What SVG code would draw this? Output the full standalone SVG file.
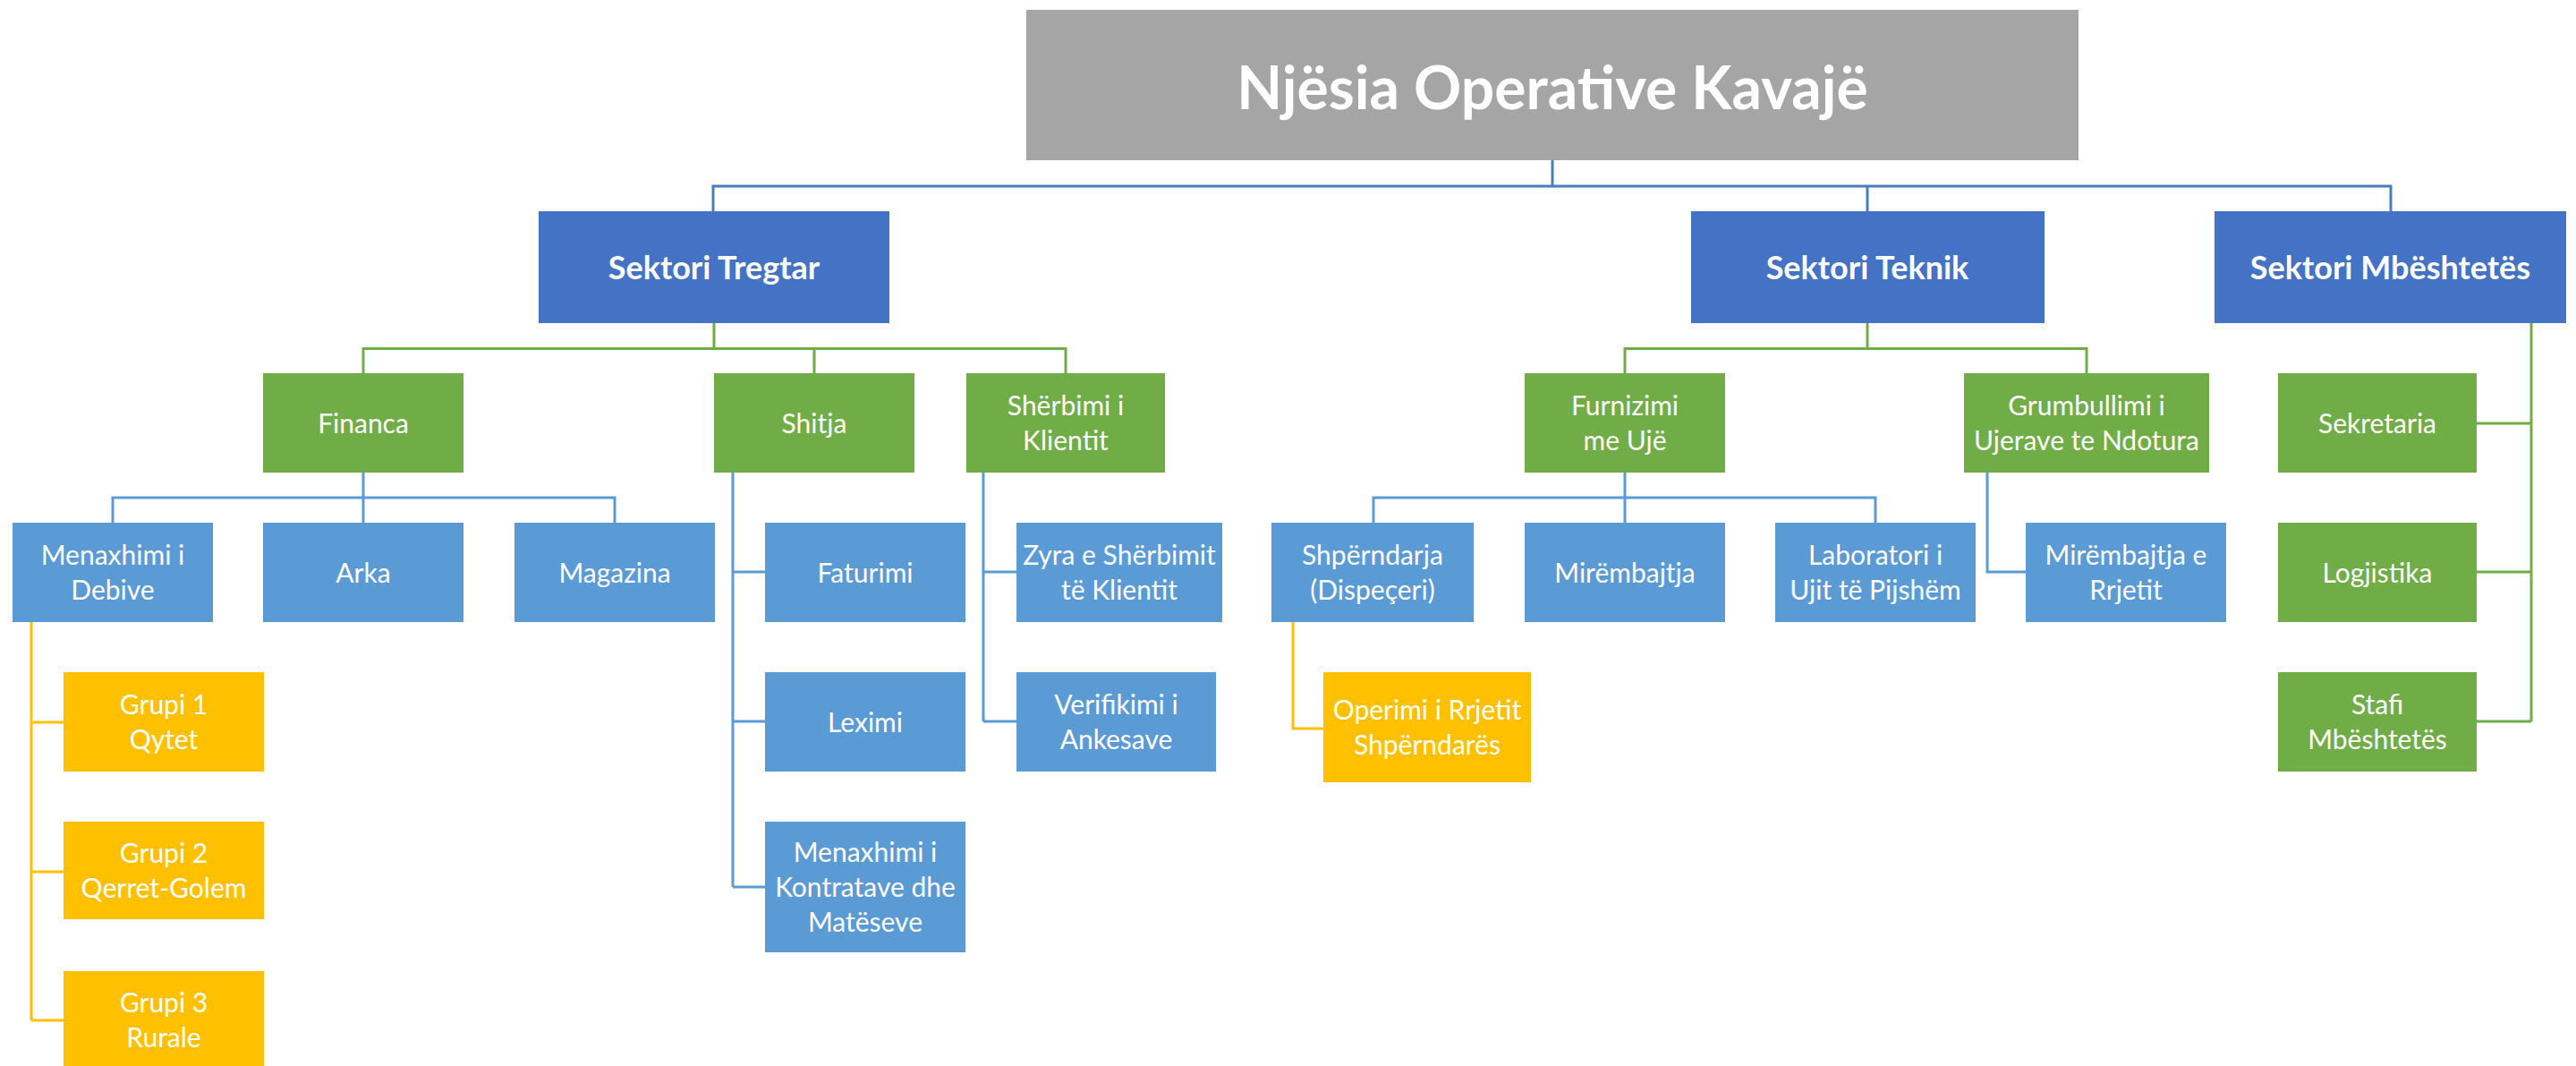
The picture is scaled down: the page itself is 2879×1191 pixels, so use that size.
<svg xmlns="http://www.w3.org/2000/svg" width="2879" height="1191" viewBox="0 0 2879 1191">
<style>
text{font-family:Lato,"Open Sans",sans-serif;fill:#fff;text-anchor:middle}
.t{font-size:30px}
.s{font-size:36px;font-weight:bold}
.r{font-size:66px;font-weight:bold}
.gray{fill:#A5A5A5}
.sec{fill:#4472C4}
.grn{fill:#70AD47}
.lb{fill:#5B9BD5}
.or{fill:#FFC000}
.c1{stroke:#4A7EBB;stroke-width:3;fill:none}
.c2{stroke:#70AD47;stroke-width:3;fill:none}
.c3{stroke:#5B9BD5;stroke-width:3;fill:none}
.c4{stroke:#FFC000;stroke-width:3;fill:none}
</style>
<rect width="2879" height="1191" fill="#fff"/>
<g id="connectors">
<path class="c1" d="M1735 179V208M797 236V208H2672V236M2087 208V236"/>
<path class="c2" d="M798 361V389.5M406 417V389.5H1191V417M910 389.5V417"/>
<path class="c2" d="M2087 361V389.5M1816 417V389.5H2332V417"/>
<path class="c2" d="M2829 361V806M2768 473H2829M2768 639H2829M2768 806H2829"/>
<path class="c3" d="M406 528V556M126 584V556H687V584M406 556V584"/>
<path class="c3" d="M819 528V991M819 639H855M819 806H855M819 991H855"/>
<path class="c3" d="M1099 528V806M1099 639H1136M1099 806H1136"/>
<path class="c3" d="M1816 528V556M1535 584V556H2096V584M1816 556V584"/>
<path class="c3" d="M2221 528V639H2264"/>
<path class="c4" d="M35 695V1140M35 807H71M35 974H71M35 1140H71"/>
<path class="c4" d="M1445 695V814H1479"/>
</g>
<g id="root"><rect class="gray" x="1147" y="11" width="1176" height="168"/><text class="r" x="1735" y="122">Njësia Operative Kavajë</text></g>
<g id="sektori-tregtar"><rect class="sec" x="602" y="236" width="392" height="125"/><text class="s" x="798" y="312">Sektori Tregtar</text></g>
<g id="sektori-teknik"><rect class="sec" x="1890" y="236" width="395" height="125"/><text class="s" x="2087" y="312">Sektori Teknik</text></g>
<g id="sektori-mbeshtetes"><rect class="sec" x="2475" y="236" width="393" height="125"/><text class="s" x="2671.5" y="312">Sektori Mbështetës</text></g>
<g id="financa"><rect class="grn" x="294" y="417" width="224" height="111"/><text class="t" x="406" y="484">Financa</text></g>
<g id="shitja"><rect class="grn" x="798" y="417" width="224" height="111"/><text class="t" x="910" y="484">Shitja</text></g>
<g id="sherbimi"><rect class="grn" x="1080" y="417" width="222" height="111"/><text class="t" x="1191" y="464">Shërbimi i</text><text class="t" x="1191" y="503">Klientit</text></g>
<g id="furnizimi"><rect class="grn" x="1704" y="417" width="224" height="111"/><text class="t" x="1816" y="464">Furnizimi</text><text class="t" x="1816" y="503">me Ujë</text></g>
<g id="grumbullimi"><rect class="grn" x="2195" y="417" width="274" height="111"/><text class="t" x="2332" y="464">Grumbullimi i</text><text class="t" x="2332" y="503">Ujerave te Ndotura</text></g>
<g id="sekretaria"><rect class="grn" x="2546" y="417" width="222" height="111"/><text class="t" x="2657" y="484">Sekretaria</text></g>
<g id="menaxhimi-debive"><rect class="lb" x="14" y="584" width="224" height="111"/><text class="t" x="126" y="631">Menaxhimi i</text><text class="t" x="126" y="670">Debive</text></g>
<g id="arka"><rect class="lb" x="294" y="584" width="224" height="111"/><text class="t" x="406" y="651">Arka</text></g>
<g id="magazina"><rect class="lb" x="575" y="584" width="224" height="111"/><text class="t" x="687" y="651">Magazina</text></g>
<g id="faturimi"><rect class="lb" x="855" y="584" width="224" height="111"/><text class="t" x="967" y="651">Faturimi</text></g>
<g id="zyra"><rect class="lb" x="1136" y="584" width="230" height="111"/><text class="t" x="1251" y="631">Zyra e Shërbimit</text><text class="t" x="1251" y="670">të Klientit</text></g>
<g id="shperndarja"><rect class="lb" x="1421" y="584" width="226" height="111"/><text class="t" x="1534" y="631">Shpërndarja</text><text class="t" x="1534" y="670">(Dispeçeri)</text></g>
<g id="mirembajtja"><rect class="lb" x="1704" y="584" width="224" height="111"/><text class="t" x="1816" y="651">Mirëmbajtja</text></g>
<g id="laboratori"><rect class="lb" x="1984" y="584" width="224" height="111"/><text class="t" x="2096" y="631">Laboratori i</text><text class="t" x="2096" y="670">Ujit të Pijshëm</text></g>
<g id="mirembajtja-rrjetit"><rect class="lb" x="2264" y="584" width="224" height="111"/><text class="t" x="2376" y="631">Mirëmbajtja e</text><text class="t" x="2376" y="670">Rrjetit</text></g>
<g id="logjistika"><rect class="grn" x="2546" y="584" width="222" height="111"/><text class="t" x="2657" y="651">Logjistika</text></g>
<g id="grupi1"><rect class="or" x="71" y="751" width="224" height="111"/><text class="t" x="183" y="798">Grupi 1</text><text class="t" x="183" y="837">Qytet</text></g>
<g id="leximi"><rect class="lb" x="855" y="751" width="224" height="111"/><text class="t" x="967" y="818">Leximi</text></g>
<g id="verifikimi"><rect class="lb" x="1136" y="751" width="223" height="111"/><text class="t" x="1247.5" y="798">Verifikimi i</text><text class="t" x="1247.5" y="837">Ankesave</text></g>
<g id="operimi"><rect class="or" x="1479" y="751" width="232" height="123"/><text class="t" x="1595" y="804">Operimi i Rrjetit</text><text class="t" x="1595" y="843">Shpërndarës</text></g>
<g id="stafi"><rect class="grn" x="2546" y="751" width="222" height="111"/><text class="t" x="2657" y="798">Stafi</text><text class="t" x="2657" y="837">Mbështetës</text></g>
<g id="grupi2"><rect class="or" x="71" y="918" width="224" height="109"/><text class="t" x="183" y="964">Grupi 2</text><text class="t" x="183" y="1003">Qerret-Golem</text></g>
<g id="menaxhimi-kontratave"><rect class="lb" x="855" y="918" width="224" height="146"/><text class="t" x="967" y="963">Menaxhimi i</text><text class="t" x="967" y="1002">Kontratave dhe</text><text class="t" x="967" y="1041">Matëseve</text></g>
<g id="grupi3"><rect class="or" x="71" y="1085" width="224" height="111"/><text class="t" x="183" y="1131">Grupi 3</text><text class="t" x="183" y="1170">Rurale</text></g>
</svg>
